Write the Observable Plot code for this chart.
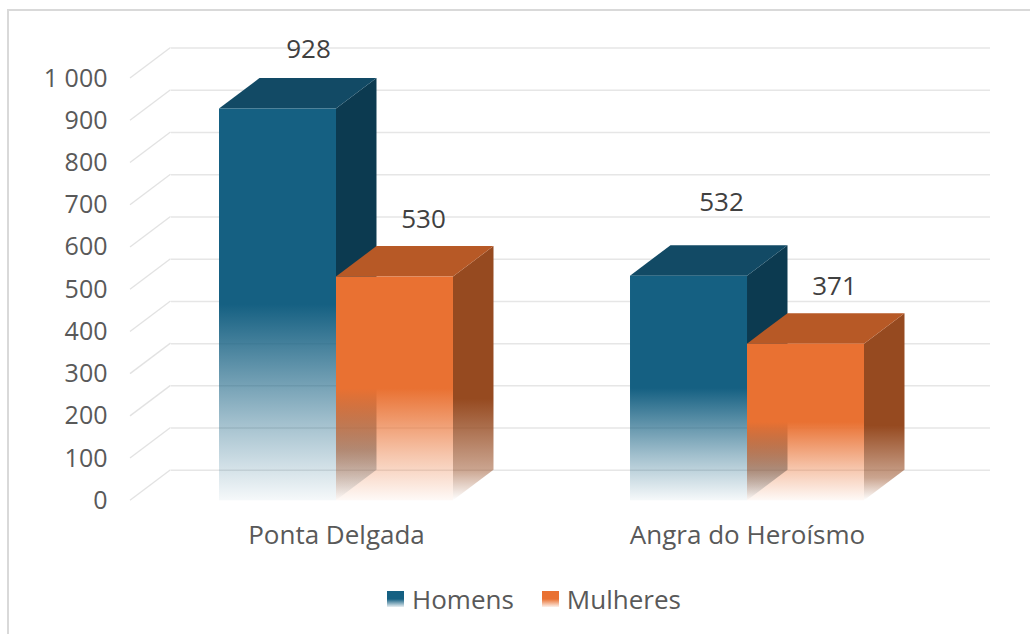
<!DOCTYPE html>
<html>
<head>
<meta charset="utf-8">
<script src="https://cdn.jsdelivr.net/npm/d3@7"></script>
<script src="https://cdn.jsdelivr.net/npm/@observablehq/plot@0.6"></script>
<style>
  html, body { margin: 0; padding: 0; background: #fff; width: 1030px; height: 634px; overflow: hidden; }
  body { font-family: "Open Sans", sans-serif; position: relative; }
  #frame { position: absolute; left: 7px; top: 9px; width: 1100px; height: 700px; border: 2px solid #d9d9d9; box-sizing: border-box; }
  #chart { position: absolute; left: 0; top: 0; }
  #legend { position: absolute; left: 387px; top: 584px; display: flex; align-items: center; font-size: 26px; color: #595959; line-height: 30px; }
  .item { display: flex; align-items: center; }
  .sw { width: 17px; height: 16px; margin-right: 8px; }
</style>
</head>
<body>
<div id="frame"></div>
<div id="chart"></div>
<div id="legend"></div>
<script>
// ---- data ----
const categories = ["Ponta Delgada", "Angra do Heroísmo"];
const seriesNames = ["Homens", "Mulheres"];
const homens = [928, 532];
const mulheres = [530, 371];
const yTicks = [0, 100, 200, 300, 400, 500, 600, 700, 800, 900, 1000];

// ---- styles ----
const frontColors = ["#156082", "#E97132"];
const topColors = ["#124a65", "#b75926"];
const sideColors = ["#0c3a50", "#964a20"];
const DX = 40.5, DY = -30.5;

const seriesValues = [homens, mulheres];
const rows = categories.flatMap((c, i) =>
  seriesNames.map((s, j) => ({category: c, series: s, si: j, value: seriesValues[j][i]}))
);

const locale = d3.formatLocale({decimal: ",", thousands: " ", grouping: [3], currency: ["", " €"]});
const fmt = locale.format(",d");

function bars3d(index, scales, values, dimensions) {
  const {x, y} = scales;
  const bw = x.bandwidth();
  const g = d3.create("svg:g");
  const defs = g.append("defs");
  seriesNames.forEach((s, j) => {
    const gf = defs.append("linearGradient").attr("id", "front" + j)
      .attr("x1", 0).attr("y1", 0).attr("x2", 0).attr("y2", 1);
    gf.append("stop").attr("offset", 0).attr("stop-color", frontColors[j]).attr("stop-opacity", 1);
    gf.append("stop").attr("offset", 0.5).attr("stop-color", frontColors[j]).attr("stop-opacity", 1);
    gf.append("stop").attr("offset", 0.8).attr("stop-color", frontColors[j]).attr("stop-opacity", 0.4);
    gf.append("stop").attr("offset", 1).attr("stop-color", frontColors[j]).attr("stop-opacity", 0.04);
    const gs = defs.append("linearGradient").attr("id", "side" + j)
      .attr("x1", 0).attr("y1", 0).attr("x2", 0).attr("y2", 1);
    gs.append("stop").attr("offset", 0).attr("stop-color", sideColors[j]).attr("stop-opacity", 1);
    gs.append("stop").attr("offset", 0.6).attr("stop-color", sideColors[j]).attr("stop-opacity", 1);
    gs.append("stop").attr("offset", 0.88).attr("stop-color", sideColors[j]).attr("stop-opacity", 0.5);
    gs.append("stop").attr("offset", 1).attr("stop-color", sideColors[j]).attr("stop-opacity", 0);
  });
  // perspective floor-to-wall gridline segments
  const left = dimensions.marginLeft;
  g.append("g").selectAll("line").data(yTicks).join("line")
    .attr("x1", left).attr("y1", d => y(d))
    .attr("x2", left + DX).attr("y2", d => y(d) + DY)
    .attr("stroke", "#e2e2e2").attr("stroke-width", 1.3);
  // bars, back-to-front order
  rows.forEach(r => {
    const x0 = x(r.category) + r.si * bw / 2;
    const x1 = x0 + bw / 2;
    const yt = y(r.value), yb = y(0);
    const bar = g.append("g");
    bar.append("path")
      .attr("d", `M${x1},${yt}L${x1 + DX},${yt + DY}L${x1 + DX},${yb + DY}L${x1},${yb}Z`)
      .attr("fill", `url(#side${r.si})`);
    bar.append("path")
      .attr("d", `M${x0},${yt}L${x1},${yt}L${x1 + DX},${yt + DY}L${x0 + DX},${yt + DY}Z`)
      .attr("fill", topColors[r.si]);
    bar.append("rect")
      .attr("x", x0).attr("y", yt).attr("width", x1 - x0).attr("height", yb - yt)
      .attr("fill", `url(#front${r.si})`);
  });
  return g.node();
}

const isH = d => d.series === "Homens";
const chart = Plot.plot({
  width: 1030,
  height: 570,
  marginLeft: 130,
  marginRight: 40,
  marginTop: 20,
  marginBottom: 70,
  style: {fontFamily: "'Open Sans', sans-serif", color: "#595959", background: "transparent", overflow: "visible"},
  x: {type: "band", domain: categories, range: [136.8, 946.2], paddingInner: 0.4307, paddingOuter: 0.2, round: false},
  y: {domain: [0, 1000], range: [500.3, 78.1]},
  marks: [
    Plot.ruleY(yTicks, {dy: DY, insetLeft: 41, stroke: "#e6e6e6", strokeWidth: 1.5}),
    bars3d,
    Plot.axisY(yTicks, {anchor: "left", tickSize: 0, tickPadding: 23, tickFormat: fmt, fontSize: 25, label: null, fill: "#595959"}),
    Plot.axisX({tickSize: 0, tickPadding: 25, fontSize: 26, label: null, fill: "#595959"}),
    Plot.text(rows.filter(d => isH(d) && d.category === categories[0]), {x: "category", y: "value", text: d => fmt(d.value), dx: -28, dy: -59, fontSize: 26, fill: "#404040"}),
    Plot.text(rows.filter(d => isH(d) && d.category === categories[1]), {x: "category", y: "value", text: d => fmt(d.value), dx: -26, dy: -74, fontSize: 26, fill: "#404040"}),
    Plot.text(rows.filter(d => !isH(d)), {x: "category", y: "value", text: d => fmt(d.value), dx: 87, dy: -57, fontSize: 26, fill: "#404040"})
  ]
});
document.getElementById("chart").appendChild(chart);

// legend
const legend = d3.select("#legend");
seriesNames.forEach((s, j) => {
  const it = legend.append("div").attr("class", "item").style("margin-right", j === 0 ? "28px" : "0");
  it.append("div").attr("class", "sw")
    .style("background", `linear-gradient(to bottom, ${frontColors[j]} 0%, ${frontColors[j]} 50%, ${d3.color(frontColors[j]).copy({opacity: 0.1})} 100%)`);
  it.append("span").text(s);
});
</script>
</body>
</html>
